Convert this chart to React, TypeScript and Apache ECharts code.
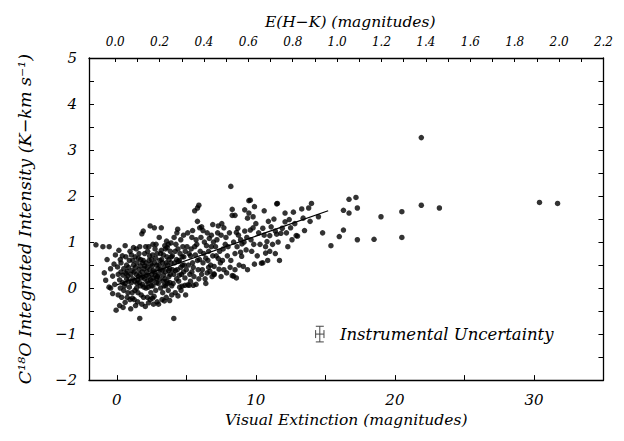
import React, { useEffect, useRef } from "react";
import * as echarts from "echarts";

// Visual extinction (A_V) vs C18O integrated intensity
const points: number[][] = [
  // A_V < 0
  [-1.5,0.94],[-1.0,0.9],[-0.55,0.9],[-0.7,0.62],[-0.9,0.33],[-0.8,0.17],[-0.56,0.02],[-0.44,0.0],[-0.05,-0.48],[-0.3,0.26],[-0.2,0.52],[-0.15,0.08],[-0.45,0.42],[-0.1,0.72],[-0.3,-0.12],
  // 0-1
  [0.1,0.3],[0.2,-0.38],[0.6,-0.31],[0.3,0.55],[0.4,0.12],[0.5,0.42],[0.6,0.92],[0.7,0.2],[0.8,-0.1],[0.9,0.6],[0.15,0.82],[0.25,0.0],[0.35,-0.2],[0.45,0.28],[0.55,0.05],[0.65,0.68],[0.75,0.36],[0.85,0.15],[0.95,-0.25],[0.05,0.46],[0.2,0.18],[0.4,0.7],[0.5,-0.05],[0.7,0.5],[0.8,0.26],[0.9,0.02],[0.3,0.35],[0.6,0.1],[0.95,0.8],[0.1,-0.15],[0.45,-0.42],[0.85,0.45],[0.75,-0.2],[0.25,0.62],[0.65,0.32],
  // 1-2
  [1.0,0.3],[1.1,-0.1],[1.2,0.5],[1.3,0.15],[1.4,0.85],[1.5,-0.3],[1.6,0.4],[1.65,-0.66],[1.7,0.05],[1.8,1.18],[1.9,1.24],[1.9,0.25],[1.05,0.72],[1.15,0.2],[1.25,-0.25],[1.35,0.45],[1.45,0.1],[1.55,0.65],[1.65,0.3],[1.75,-0.15],[1.85,0.55],[1.95,0.02],[1.0,-0.45],[1.1,0.38],[1.2,0.88],[1.3,-0.05],[1.4,0.3],[1.5,0.18],[1.6,0.75],[1.7,0.48],[1.8,-0.35],[1.9,0.6],[1.05,0.12],[1.15,0.6],[1.25,0.35],[1.35,-0.38],[1.45,0.55],[1.55,0.25],[1.65,0.9],[1.75,0.22],[1.85,0.08],[1.95,0.42],[1.12,-0.22],[1.32,0.68],[1.52,-0.1],[1.72,0.62],[1.92,-0.2],[1.42,0.0],[1.62,0.12],[1.82,0.35],
  // 2-3
  [2.0,0.2],[2.1,0.55],[2.2,-0.2],[2.3,0.9],[2.4,1.35],[2.5,0.3],[2.6,0.05],[2.7,1.31],[2.8,0.65],[2.9,-0.3],[2.05,-0.4],[2.15,0.35],[2.25,0.1],[2.35,0.7],[2.45,-0.1],[2.55,0.48],[2.65,0.22],[2.75,0.85],[2.85,0.12],[2.95,0.42],[2.0,0.75],[2.1,0.0],[2.2,0.45],[2.3,0.25],[2.4,-0.25],[2.5,0.62],[2.6,0.95],[2.7,0.35],[2.8,-0.05],[2.9,0.75],[2.08,0.9],[2.18,0.15],[2.28,-0.32],[2.38,0.4],[2.48,0.05],[2.58,0.72],[2.68,-0.18],[2.78,0.28],[2.88,0.5],[2.98,0.1],[2.12,0.28],[2.32,0.6],[2.52,0.15],[2.72,0.55],[2.92,0.25],[2.22,0.8],[2.42,0.18],[2.62,0.38],[2.82,0.95],[2.02,0.48],[2.44,0.52],[2.64,-0.35],[2.84,0.2],[2.26,0.02],[2.56,-0.22],
  // 3-4
  [3.0,0.3],[3.05,1.1],[3.1,0.6],[3.2,1.31],[3.3,-0.1],[3.4,0.45],[3.5,0.85],[3.6,0.15],[3.7,0.95],[3.8,-0.27],[3.9,0.55],[3.15,0.0],[3.25,0.38],[3.35,0.72],[3.45,0.2],[3.55,-0.2],[3.65,0.5],[3.75,0.25],[3.85,0.8],[3.95,0.05],[3.0,-0.35],[3.1,0.2],[3.2,0.82],[3.3,0.55],[3.4,0.05],[3.5,0.35],[3.6,0.68],[3.7,-0.05],[3.8,0.42],[3.9,0.98],[3.05,0.5],[3.15,0.75],[3.25,-0.25],[3.35,0.28],[3.45,0.92],[3.55,0.55],[3.65,0.1],[3.75,0.62],[3.85,0.3],[3.95,-0.15],[3.12,0.4],[3.32,0.15],[3.52,0.05],[3.72,0.38],[3.92,0.68],[3.42,-0.28],[3.62,0.88],[3.82,0.12],[3.22,0.62],[3.58,1.02],
  // 4-5
  [4.0,0.4],[4.1,-0.66],[4.2,0.8],[4.3,0.2],[4.4,-0.17],[4.5,0.6],[4.6,1.05],[4.7,0.04],[4.8,0.35],[4.95,-0.15],[4.05,0.1],[4.15,0.55],[4.25,0.95],[4.35,0.4],[4.45,0.15],[4.55,0.75],[4.65,0.3],[4.75,0.9],[4.85,0.5],[4.9,0.06],[4.0,0.7],[4.1,0.3],[4.2,-0.1],[4.3,0.62],[4.4,0.85],[4.5,0.28],[4.6,0.45],[4.7,0.68],[4.8,1.15],[4.9,0.22],[4.12,1.1],[4.32,1.2],[4.52,0.02],[4.72,0.5],[4.92,0.8],[4.22,0.38],[4.42,0.58],[4.62,-0.05],[4.82,0.68],[4.38,1.28],
  // 5-6
  [5.0,0.4],[5.1,0.07],[5.2,0.06],[5.3,0.7],[5.4,1.1],[5.5,0.06],[5.6,1.68],[5.7,0.08],[5.8,1.45],[5.9,1.8],[5.96,1.31],[5.8,1.74],[5.05,0.9],[5.15,0.5],[5.25,0.3],[5.35,0.85],[5.45,0.55],[5.55,0.25],[5.65,0.72],[5.75,0.95],[5.85,0.4],[5.95,0.62],[5.1,1.2],[5.3,0.15],[5.5,0.45],[5.7,1.05],[5.9,0.2],[5.2,0.75],[5.4,0.35],[5.6,0.9],[5.8,0.6],[5.45,1.25],
  // 6-7
  [6.1,0.3],[6.1,1.33],[6.5,0.33],[6.9,1.38],[7.0,0.31],[6.0,0.8],[6.2,0.55],[6.3,1.0],[6.4,0.65],[6.5,1.2],[6.6,0.45],[6.7,0.36],[6.8,0.9],[6.9,0.7],[6.05,1.1],[6.15,0.4],[6.25,0.75],[6.35,0.2],[6.45,0.92],[6.55,0.6],[6.65,1.08],[6.75,0.5],[6.85,0.25],[6.95,1.0],[6.2,1.25],[6.6,0.8],[6.4,0.1],[6.8,1.15],
  // 7-8
  [7.0,0.29],[7.35,0.41],[7.3,1.35],[7.7,1.31],[7.9,0.33],[7.7,0.4],[7.3,0.64],[7.0,0.47],[7.1,0.9],[7.2,1.05],[7.4,0.8],[7.5,1.15],[7.6,0.6],[7.8,0.95],[7.5,0.25],[7.15,0.7],[7.45,0.55],[7.65,0.85],[7.85,1.1],[7.95,0.7],[7.25,1.2],[7.55,1.4],
  // 8-9
  [8.2,2.21],[8.3,1.71],[8.3,1.58],[8.5,1.58],[8.3,0.27],[8.5,0.4],[8.6,0.22],[8.4,0.26],[8.6,1.21],[8.9,0.78],[8.98,0.69],[8.0,0.9],[8.1,1.2],[8.2,0.6],[8.4,1.0],[8.5,0.75],[8.7,1.3],[8.8,0.5],[8.9,1.05],[8.15,0.45],[8.65,0.9],[8.75,1.15],
  // 9-10
  [9.0,0.96],[9.1,0.47],[9.2,1.7],[9.2,1.24],[9.3,0.83],[9.4,0.4],[9.5,1.9],[9.5,1.63],[9.6,1.26],[9.6,1.91],[9.7,0.8],[9.8,1.55],[9.8,1.31],[9.9,1.77],[9.9,0.52],[9.4,1.52],[9.15,1.0],[9.35,1.1],[9.65,1.05],[9.85,0.95],
  // 10-11
  [10.0,1.4],[10.4,0.54],[10.5,0.55],[10.6,1.68],[10.7,0.76],[10.7,0.9],[10.8,1.01],[11.0,1.14],[11.0,0.8],[10.2,1.2],[10.3,0.95],[10.5,1.3],[10.9,1.45],[10.1,0.7],[10.6,1.15],[10.85,0.6],
  // 11-12
  [11.1,1.33],[11.4,1.24],[11.5,1.17],[11.5,1.83],[11.8,1.19],[11.55,1.84],[11.2,0.95],[11.3,1.5],[11.6,1.0],[11.7,0.6],[11.9,1.3],[11.4,0.75],
  // 12-13
  [12.1,1.63],[12.1,1.44],[12.4,1.49],[12.5,1.31],[12.7,1.65],[12.9,1.14],[12.3,0.9],[12.6,1.05],[12.8,1.4],[12.2,1.2],
  // 13-16
  [13.0,1.13],[13.3,1.72],[13.4,1.52],[13.8,1.74],[14.0,1.84],[13.5,1.25],[13.9,1.45],
  [14.5,1.55],[14.8,1.2],[15.4,0.92],[16.0,1.12],[16.3,1.26],[16.3,1.69],
  // > 16
  [16.7,1.93],[17.2,1.97],[17.3,1.74],[16.7,1.63],[17.3,1.05],[18.5,1.06],[19.0,1.55],[20.5,1.66],[20.5,1.1],[21.9,3.27],[21.9,1.8],[23.2,1.74],
  [30.4,1.86],[31.7,1.84],
];

// least-squares fit line end points (A_V, intensity)
const fitLine: number[][] = [[0, 0.07], [15.2, 1.68]];

// instrumental uncertainty bar: [A_V, intensity, half-width A_V, half-height intensity]
const uncertainty: number[][] = [[14.6, -1, 0.3, 0.17]];

const avLabels = [0, 10, 20, 30];
const avTicks = [0, 5, 10, 15, 20, 25, 30, 35];
const ehkLabels = [0, 0.2, 0.4, 0.6, 0.8, 1.0, 1.2, 1.4, 1.6, 1.8, 2.0, 2.2];
const ehkTicks = [0, 0.1, 0.2, 0.3, 0.4, 0.5, 0.6, 0.7, 0.8, 0.9, 1.0, 1.1, 1.2, 1.3, 1.4, 1.5, 1.6, 1.7, 1.8, 1.9, 2.0, 2.1, 2.2];

const FONT = "DejaVu Serif";

export default function App() {
  const ref = useRef<HTMLDivElement>(null);
  useEffect(() => {
    if (!ref.current) return;
    const chart = echarts.init(ref.current, undefined, { renderer: "svg" });
    const lineStyle = { color: "#000", width: 1.3 };
    const labelBase = { fontFamily: FONT, fontStyle: "italic" as const, color: "#000" };
    chart.setOption({
      animation: false,
      backgroundColor: "#fff",
      grid: { left: 76, right: 1, top: 50, bottom: 44, containLabel: false },
      xAxis: [
        {
          type: "value", min: -2, max: 35, position: "bottom",
          axisLine: { show: true, onZero: false, lineStyle },
          axisTick: { show: true, inside: true, length: 5, customValues: avTicks, lineStyle: { color: "#000" } },
          axisLabel: { ...labelBase, fontSize: 15, margin: 12, customValues: avLabels },
          splitLine: { show: false },
          name: "Visual Extinction (magnitudes)", nameLocation: "middle", nameGap: 31,
          nameTextStyle: { ...labelBase, fontSize: 15.5 },
        },
        {
          type: "value", min: -0.118, max: 2.2, position: "top",
          axisLine: { show: true, onZero: false, lineStyle },
          axisTick: { show: true, inside: true, length: 4, customValues: ehkTicks, lineStyle: { color: "#000" } },
          axisLabel: { ...labelBase, fontSize: 12, margin: 10, customValues: ehkLabels, formatter: (v: number) => v.toFixed(1) },
          splitLine: { show: false },
          name: "E(H\u2212K) (magnitudes)", nameLocation: "middle", nameGap: 28,
          nameTextStyle: { ...labelBase, fontSize: 15.5, padding: [0, 0, 0, 8] },
        },
      ],
      yAxis: [
        {
          type: "value", min: -2, max: 5, interval: 0.5, position: "left",
          axisLine: { show: true, onZero: false, lineStyle },
          axisTick: { show: true, inside: true, length: 5, lineStyle: { color: "#000" } },
          axisLabel: { ...labelBase, fontSize: 15, margin: 12, formatter: (v: number) => (Number.isInteger(v) ? (v < 0 ? "\u2212" + Math.abs(v) : String(v)) : "") },
          splitLine: { show: false },
          name: "C\u00B9\u2078O Integrated Intensity (K\u2212km s\u207B\u00B9)", nameLocation: "middle", nameGap: 55, nameRotate: 90,
          nameTextStyle: { ...labelBase, fontSize: 17.5 },
        },
        {
          type: "value", min: -2, max: 5, interval: 0.5, position: "right",
          axisLine: { show: true, onZero: false, lineStyle },
          axisTick: { show: true, inside: true, length: 5, lineStyle: { color: "#000" } },
          axisLabel: { show: false },
          splitLine: { show: false },
        },
      ],
      series: [
        {
          type: "scatter", xAxisIndex: 0, yAxisIndex: 0, data: points,
          symbol: "circle", symbolSize: 5.5, itemStyle: { color: "#000" }, silent: true,
        },
        {
          type: "line", xAxisIndex: 0, yAxisIndex: 0, data: fitLine, showSymbol: false, symbol: "none",
          lineStyle: { color: "#000", width: 1.2 }, silent: true, z: 3,
        },
        {
          type: "custom", xAxisIndex: 0, yAxisIndex: 0, data: uncertainty, silent: true,
          renderItem: (params: any, api: any) => {
            const x = api.value(0), y = api.value(1), dx = api.value(2), dy = api.value(3);
            const c = api.coord([x, y]);
            const l = api.coord([x - dx, y]);
            const r = api.coord([x + dx, y]);
            const t = api.coord([x, y + dy]);
            const b = api.coord([x, y - dy]);
            const st = { stroke: "#444", lineWidth: 1 };
            return {
              type: "group",
              children: [
                { type: "line", shape: { x1: l[0], y1: c[1], x2: r[0], y2: c[1] }, style: st },
                { type: "line", shape: { x1: c[0], y1: t[1], x2: c[0], y2: b[1] }, style: st },
                { type: "line", shape: { x1: c[0] - 4, y1: t[1], x2: c[0] + 4, y2: t[1] }, style: st },
                { type: "line", shape: { x1: c[0] - 4, y1: b[1], x2: c[0] + 4, y2: b[1] }, style: st },
                { type: "line", shape: { x1: l[0], y1: c[1] - 4, x2: l[0], y2: c[1] + 4 }, style: st },
                { type: "line", shape: { x1: r[0], y1: c[1] - 4, x2: r[0], y2: c[1] + 4 }, style: st },
                {
                  type: "text",
                  style: {
                    x: r[0] + 16, y: c[1], text: "Instrumental Uncertainty",
                    fontFamily: FONT, fontStyle: "italic", fontSize: 16.5, fill: "#000",
                    verticalAlign: "middle", align: "left",
                  },
                },
              ],
            };
          },
        },
      ],
    });
    return () => chart.dispose();
  }, []);
  return <div ref={ref} style={{ width: 608, height: 425 }} />;
}
